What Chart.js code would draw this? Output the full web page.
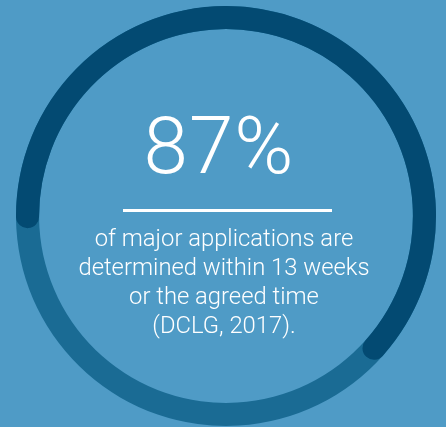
<!DOCTYPE html>
<html>
<head>
<meta charset="utf-8">
<script src="https://cdn.jsdelivr.net/npm/chart.js@4/dist/chart.umd.min.js"></script>
<style>
  html, body { margin: 0; padding: 0; background: #4f9bc6; }
  #wrap { position: relative; width: 446px; height: 427px; overflow: hidden; background: #4f9bc6; }
  canvas { position: absolute; left: 0; top: 0; }
  .txt { position: absolute; left: 0; width: 448px; text-align: center; color: #ffffff; }
  #big { top: 98px; left: -5px; font-family: Roboto, "Liberation Sans", sans-serif; font-weight: 300; font-size: 80px; line-height: 96px; letter-spacing: 1px; }
  #rule { position: absolute; left: 123px; top: 209px; width: 209px; height: 3px; background: #ffffff; }
  #sub { top: 224px; font-family: Roboto, "Liberation Sans", Arial, sans-serif; font-weight: 300; font-size: 23.8px; line-height: 29px; }
</style>
</head>
<body>
<div id="wrap">
  <canvas id="track" width="446" height="427"></canvas>
  <canvas id="arc" width="446" height="427"></canvas>
  <div class="txt" id="big"></div>
  <div id="rule"></div>
  <div class="txt" id="sub"></div>
</div>
<script>
// headline figure and caption
const headline = "87%";
const captionLines = [
  "of major applications are",
  "determined within 13 weeks",
  "or the agreed time",
  "(DCLG, 2017)."
];
// ring segments as drawn in the picture (share of the circle)
const arcLabels = ["Dark arc", "Remainder"];
const arcValues = [63.5, 36.5];
const trackLabels = ["Track"];
const trackValues = [100];

document.getElementById('big').textContent = headline;
document.getElementById('sub').innerHTML = captionLines.join('<br>');

const pad = { left: 16, right: 10, top: 6, bottom: 1 };
const common = {
  responsive: false,
  animation: false,
  rotation: 266.5,
  cutout: '89%',
  layout: { padding: pad },
  plugins: { legend: { display: false }, tooltip: { enabled: false } },
  events: []
};

new Chart(document.getElementById('track'), {
  type: 'doughnut',
  data: { labels: trackLabels, datasets: [{ data: trackValues, backgroundColor: ['#1a6b94'], borderWidth: 0 }] },
  options: common
});

new Chart(document.getElementById('arc'), {
  type: 'doughnut',
  data: { labels: arcLabels, datasets: [{
    data: arcValues,
    backgroundColor: ['#034a72', 'rgba(0,0,0,0)'],
    borderWidth: 0,
    borderRadius: [30, 0]
  }] },
  options: common
});
</script>
</body>
</html>
